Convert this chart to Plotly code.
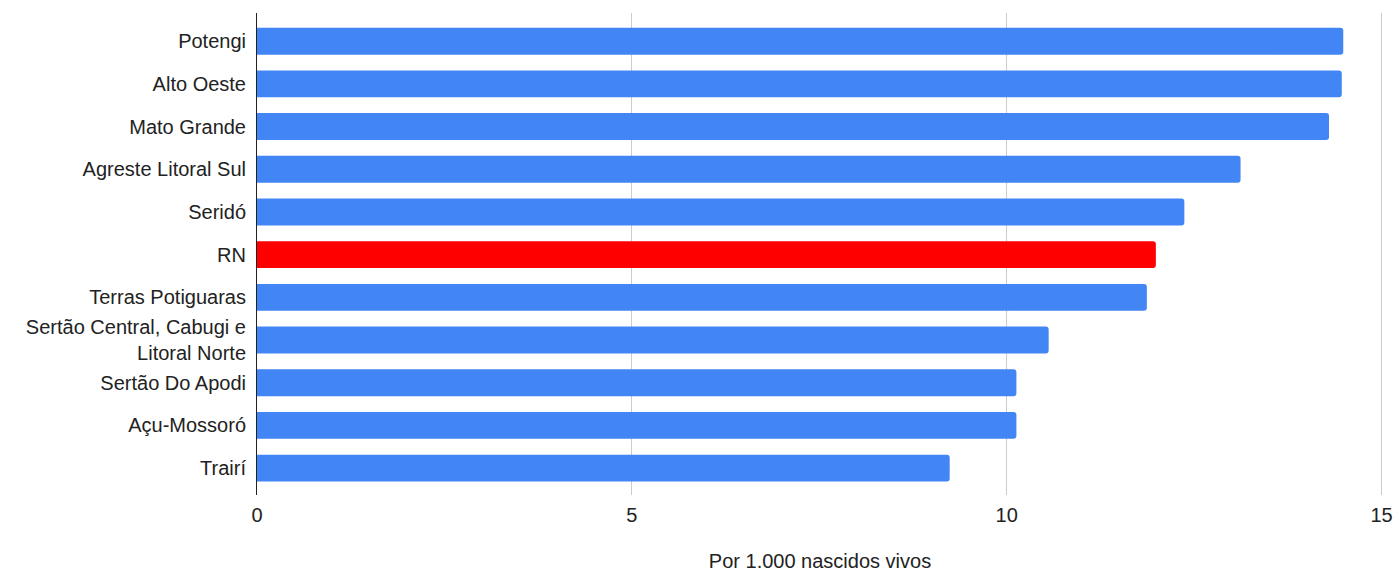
import plotly.graph_objects as go

categories = [
    "Potengi",
    "Alto Oeste",
    "Mato Grande",
    "Agreste Litoral Sul",
    "Seridó",
    "RN",
    "Terras Potiguaras",
    "Sertão Central, Cabugi e<br>Litoral Norte",
    "Sertão Do Apodi",
    "Açu-Mossoró",
    "Trairí",
]
values = [14.49, 14.47, 14.30, 13.12, 12.37, 11.99, 11.87, 10.56, 10.13, 10.13, 9.24]
highlight = "RN"
x_ticks = [0, 5, 10, 15]
x_title = "Por 1.000 nascidos vivos"

BLUE = "#4285F4"
RED = "#FF0000"

cats_rev = categories[::-1]
vals_rev = values[::-1]
colors = [RED if c == highlight else BLUE for c in cats_rev]

FONT = "Liberation Sans, Arial, sans-serif"
FS = 20

fig = go.Figure(
    go.Bar(
        x=vals_rev,
        y=cats_rev,
        orientation="h",
        marker=dict(color=colors, cornerradius=3, line=dict(width=0)),
        width=0.63,
        hoverinfo="x+y",
    )
)

fig.update_layout(
    width=1399,
    height=572,
    margin=dict(l=257, r=16, t=13, b=77),
    paper_bgcolor="white",
    plot_bgcolor="white",
    font=dict(family=FONT, size=FS, color="#222222"),
    showlegend=False,
)

fig.update_xaxes(
    range=[0, 15.02],
    tickvals=x_ticks,
    ticktext=[str(t) for t in x_ticks],
    showgrid=True,
    gridcolor="#cccccc",
    gridwidth=1,
    zeroline=False,
    showline=False,
    ticks="",
    ticklabelstandoff=6,
    ticklabeloverflow="allow",
    automargin=False,
    tickfont=dict(family=FONT, size=FS, color="#222222"),
    title=dict(text=x_title, font=dict(family=FONT, size=FS, color="#222222"), standoff=37),
)

fig.update_yaxes(
    type="category",
    range=[-0.63, 10.66],
    showline=True,
    linecolor="#222222",
    linewidth=1,
    showgrid=False,
    ticks="",
    ticklabelstandoff=6,
    automargin=False,
    tickfont=dict(family=FONT, size=FS, color="#222222"),
)

fig.write_html(
    "out.html",
    config={"displayModeBar": False},
    post_script="document.body.style.margin='0';document.body.style.overflow='hidden';",
)
